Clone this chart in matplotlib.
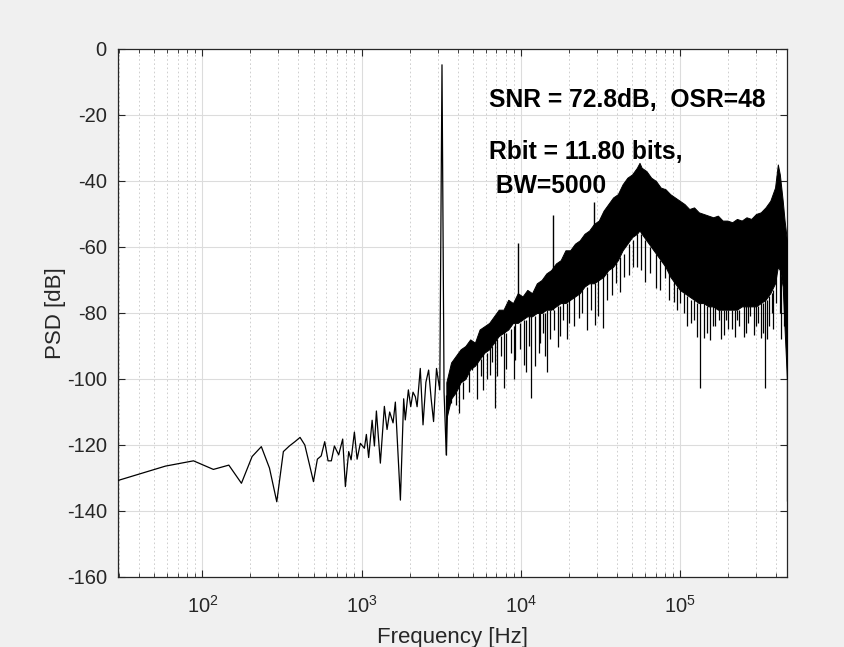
import matplotlib
matplotlib.use("Agg")
import matplotlib.pyplot as plt
from matplotlib.ticker import LogLocator, NullFormatter, MultipleLocator

# low-frequency part of the spectrum, read bin by bin (Hz, dB)
line_freq = [29.3, 58.6, 87.9, 117.2, 146.5, 175.8, 205.1, 234.4, 263.7, 293,
             322.3, 351.6, 380.9, 410.2, 439.5, 468.8, 498, 527, 557, 586,
             615, 645, 674, 717, 760, 790, 829, 858, 900, 936,
             981, 1040, 1070, 1106, 1163, 1202, 1237, 1310, 1388, 1443,
             1499, 1574, 1627, 1750, 1835, 1878, 1964, 2032, 2100, 2173,
             2228, 2333, 2427, 2530, 2632, 2730, 2827, 2950, 3093, 3193,
             3290, 3398, 3500]
line_db = [-130.8, -126.4, -124.8, -127.4, -126.1, -131.6, -123.5, -120.5, -127, -137.2,
           -122, -120.3, -119, -117.7, -120, -125.7, -131.1, -124.3, -123.3, -119,
           -124.8, -124.8, -120.3, -123, -118.2, -132.6, -122, -124.5, -116.1, -124.3,
           -119.5, -121, -116.8, -123.8, -112.5, -120.3, -109.7, -125.5, -108.3, -115.3,
           -110, -113.3, -107, -136.7, -106, -112.4, -103.3, -108.4, -104, -105.4,
           -108.4, -96.8, -113.9, -101, -97.3, -106, -112.9, -96.8, -103.3, -4.8,
           -104, -123, -101]

# dense noise band above ~3.4 kHz: upper and lower edge of the solid black band
band_freq = [3400, 3640, 3900, 4180, 4480, 4800, 5140, 5500, 5900, 6320,
             6770, 7250, 7770, 8320, 8910, 9550, 10230, 10960, 11740, 12580,
             13480, 14440, 15470, 16570, 17750, 19020, 20370, 21830, 23380, 25050,
             26830, 28750, 30800, 33000, 35350, 37870, 40570, 43460, 46560, 49880,
             53440, 55500, 57250, 61330, 65700, 70390, 75410, 80790, 86550, 92720,
             99330, 106400, 114000, 122100, 130800, 140200, 150200, 160900, 172300, 184600,
             197800, 211900, 227000, 243200, 260500, 279100, 299000, 320300, 343200, 367600,
             393800, 410000, 421900, 440000, 452000, 467600]
band_upper = [-101, -95, -93, -91, -90, -88, -89, -85, -84, -83,
              -81, -79, -79, -76, -77, -74, -75, -73, -74, -71,
              -70, -68, -67, -65, -64, -61, -61, -59, -58, -56,
              -55, -53, -52, -49, -47, -45, -44, -41, -39, -38,
              -36, -34.5, -36, -37, -39, -40, -42, -42.5, -44, -45,
              -46, -47, -48.5, -48, -49.5, -50, -50.5, -51, -50.5, -52,
              -52, -52.5, -51.5, -52, -51, -51.5, -50, -49.5, -48, -46,
              -42, -35, -38, -46, -52, -58]
band_lower = [-112, -106, -104, -101, -100, -97, -96, -94, -92, -91,
              -89, -87, -86, -85, -83, -83, -82, -81, -81, -80,
              -80, -79, -79, -78, -77, -77, -76, -75, -74, -72,
              -71, -71, -70, -69, -67, -66, -64, -61, -59, -57,
              -56, -55, -56, -58, -60, -62, -64, -66, -69, -71,
              -73, -74, -75, -76, -77, -77, -78, -78, -79, -79,
              -79, -79, -79, -78, -78, -78, -78, -77, -76, -74,
              -71, -66, -67, -72, -85, -100]

# downward spikes below the band (Hz, bottom dB, top dB)
dip_freq = [3398, 3636, 3900, 4058, 4300, 4700, 4925, 5300, 5600, 5773,
            6100, 6353, 6600, 6898, 7100, 7500, 7779, 8100, 8600, 9000,
            9210, 9900, 10490, 10800, 11200, 11560, 12200, 12900, 13200, 13660,
            14100, 14560, 15200, 16020, 16970, 17500, 18250, 19500, 20100, 21500,
            22990, 24000, 25960, 27500, 28970, 30500, 32720, 34500, 37260, 39500,
            41580, 44500, 47370, 50500, 53480, 57000, 60300, 65000, 70390, 75000,
            80520, 85000, 90800, 95000, 100000, 105000, 110000, 117200, 122000, 127300,
            132200, 140100, 148000, 154300, 160000, 165000, 175000, 180000, 187000, 195000,
            200000, 210000, 221500, 228000, 235000, 249700, 258000, 265000, 275000, 288500,
            300000, 310000, 322400, 330000, 341700, 350000, 360000, 375000, 385000, 400000,
            420000, 430000, 445100, 467600]
dip_low = [-123, -107.4, -108, -110.4, -106, -104, -97.3, -106, -99, -103.3,
           -100, -98.8, -95, -108.9, -99, -93, -102.8, -97, -92, -100,
           -94.2, -91, -95.8, -98, -90, -105.9, -96, -92.2, -89, -86.2,
           -93, -97.8, -88, -85.2, -90.2, -87, -82.1, -88, -83.1, -84,
           -81.6, -80, -85.2, -79, -83.6, -81, -84.6, -76, -74.5, -71,
           -73.5, -69, -68.5, -66, -66, -67, -70.5, -68, -72.5, -73,
           -69.5, -76, -76.6, -79, -77.1, -80, -84, -83.1, -82, -87.2,
           -102.8, -87.7, -86, -88.2, -84, -84, -82, -88, -86.7, -82,
           -85, -85, -87.2, -82, -84, -87.2, -86, -83, -81, -86.7,
           -84, -83, -87.7, -86, -102.8, -88, -84, -80, -85, -77,
           -80, -88, -84, -137]
dip_top = [-105, -100, -104, -100, -101, -98, -94, -95, -94, -91,
           -92, -89, -90, -88, -88, -87, -85, -86, -85, -84,
           -83, -83, -82, -82, -81, -81, -81, -80, -80, -80,
           -80, -79, -79, -79, -78, -78, -77, -77, -76, -75,
           -74, -73, -72, -71, -71, -70, -69, -68, -66, -65,
           -63, -62, -59, -58, -56, -56, -58, -60, -62, -64,
           -65, -68, -70, -72, -73, -74, -75, -76, -76, -77,
           -77, -77, -78, -78, -78, -78, -78, -79, -79, -79,
           -79, -79, -79, -79, -79, -78, -78, -78, -78, -78,
           -78, -78, -77, -77, -76, -76, -75, -74, -73, -68,
           -67, -69, -72, -60]

# tones sticking out of the noise band (Hz, base dB, peak dB)
tone_freq = [9520, 15790, 28560]
tone_base = [-82, -79, -70]
tone_peak = [-58.8, -50.3, -46.3]

snr_text = "SNR = 72.8dB,  OSR=48"
rbit_text = "Rbit = 11.80 bits,"
bw_text = " BW=5000"


def main() -> None:
    plt.rcParams["font.family"] = ["Liberation Sans", "DejaVu Sans"]
    plt.rcParams["axes.unicode_minus"] = False
    plt.rcParams["mathtext.fontset"] = "custom"
    plt.rcParams["mathtext.rm"] = "Liberation Sans"
    plt.rcParams["mathtext.it"] = "Liberation Sans:italic"

    fig = plt.figure(figsize=(8.45, 6.47), dpi=100, facecolor="#f0f0f0")
    ax = fig.add_axes([0.1396, 0.1082, 0.7921, 0.8161])
    ax.set_facecolor("white")

    ink = "black"
    ax.plot(line_freq, line_db, color=ink, lw=0.9, zorder=3)
    ax.fill_between(band_freq, band_lower, band_upper, color=ink, lw=0.7, zorder=3)
    ax.vlines(dip_freq, dip_low, dip_top, color=ink, lw=0.9, zorder=3)
    ax.vlines(tone_freq, tone_base, tone_peak, color=ink, lw=1.0, zorder=3)

    ax.set_xscale("log")
    ax.set_xlim(29.5, 4.7e5)
    ax.set_ylim(-160, 0)
    ax.yaxis.set_major_locator(MultipleLocator(20))
    ax.xaxis.set_major_locator(LogLocator(base=10, numticks=10))
    ax.xaxis.set_minor_locator(LogLocator(base=10, subs=range(2, 10), numticks=20))
    ax.xaxis.set_minor_formatter(NullFormatter())

    ax.grid(True, which="major", color="#dcdcdc", lw=0.8, zorder=0)
    ax.grid(True, which="minor", axis="x", color="#c8c8c8", lw=0.6, ls=(0, (2, 3)), zorder=0)
    ax.set_axisbelow(True)

    axis_col = "#262626"
    for s in ax.spines.values():
        s.set_color(axis_col)
        s.set_linewidth(0.9)
    ax.tick_params(which="both", direction="in", top=True, right=True, colors=axis_col,
                   labelsize=14.5, labelcolor=axis_col)
    ax.tick_params(which="major", length=5, width=0.8)
    ax.tick_params(which="minor", length=3, width=0.6)
    ax.tick_params(axis="x", pad=13)
    ax.tick_params(axis="y", pad=8)

    ax.set_xlabel("Frequency [Hz]", fontsize=16, color=axis_col, labelpad=7)
    ax.set_ylabel("PSD [dB]", fontsize=16, color=axis_col, labelpad=0.5)

    ax.text(6300, -15.5, snr_text, fontsize=17.7, fontweight="bold", va="center", ha="left", zorder=5)
    ax.text(6300, -31.2, rbit_text, fontsize=17.7, fontweight="bold", va="center", ha="left", zorder=5)
    ax.text(6300, -41.5, bw_text, fontsize=17.7, fontweight="bold", va="center", ha="left", zorder=5)

    fig.savefig("out.png", dpi=100, facecolor=fig.get_facecolor())
    plt.close(fig)


if __name__ == "__main__":
    main()
